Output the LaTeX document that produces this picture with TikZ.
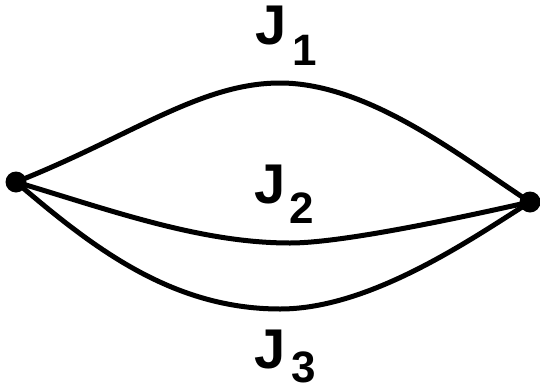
\documentclass[tikz,border=0pt]{standalone}
\usepackage{fontspec}
\setmainfont{Liberation Sans}
\begin{document}
\begin{tikzpicture}[x=1pt,y=-1pt,
  edge/.style={line width=5pt,line cap=round},
  vertex/.style={circle,fill=black,inner sep=0pt,minimum size=21pt},
  jlabel/.style={inner sep=0pt,anchor=base west,font=\fontsize{56}{56}\selectfont\bfseries}]
\useasboundingbox (0,0) rectangle (540,391);
\node[vertex] (L) at (16,182) {};
\node[vertex] (R) at (530,202) {};
\coordinate (t1) at (280,83);
\coordinate (t2) at (290,243);
\coordinate (t3) at (280,309);
\draw[edge] (L.center) .. controls (130,137) and (200,83) .. (t1)
  .. controls (370,83) and (465,160) .. (R.center);
\draw[edge] (L.center) .. controls (110,210) and (200,243) .. (t2)
  .. controls (340,243) and (450,220) .. (R.center);
\draw[edge] (L.center) .. controls (90,245) and (170,309) .. (t3)
  .. controls (370,309) and (470,240) .. (R.center);
\node[jlabel] (j1) at (255,44) {J\hspace{6pt}\raisebox{-21pt}{\fontsize{44}{44}\selectfont 1}};
\node[jlabel] (j2) at (254,203) {J\hspace{4pt}\raisebox{-20pt}{\fontsize{44}{44}\selectfont 2}};
\node[jlabel] (j3) at (254,368) {J\hspace{6pt}\raisebox{-14pt}{\fontsize{44}{44}\selectfont 3}};
\end{tikzpicture}
\end{document}
